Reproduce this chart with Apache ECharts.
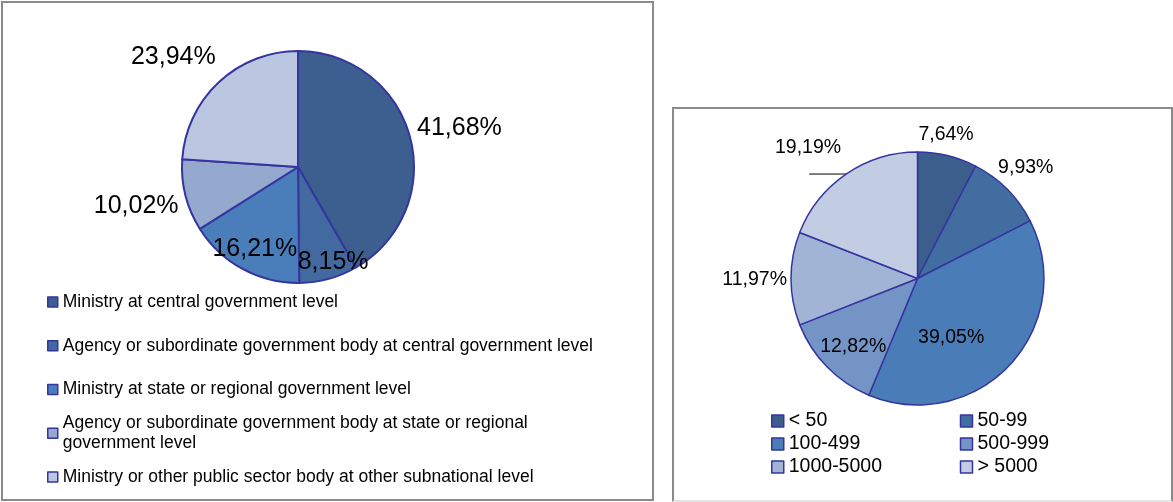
<!DOCTYPE html>
<html>
<head>
<meta charset="utf-8">
<script src="https://cdn.jsdelivr.net/npm/echarts@6/dist/echarts.min.js"></script>
<style>
  html, body { margin: 0; padding: 0; background: #fff; }
  #wrap { position: relative; width: 1173px; height: 502px; overflow: hidden; }
  .box { position: absolute; border: 2px solid #8a8a8a; box-sizing: border-box; }
  #main { position: absolute; left: 0; top: 0; width: 1173px; height: 502px; }
</style>
</head>
<body>
<div id="wrap">
  <div class="box" style="left:1px;top:1px;width:653px;height:500px;"></div>
  <div class="box" style="left:672px;top:107px;width:501px;height:395px;border-bottom-color:#e4e4e4;"></div>
  <div id="main"></div>
</div>
<script>
// 左图：机构类型
var leftNames = [
  "Ministry at central government level",
  "Agency or subordinate government body at central government level",
  "Ministry at state or regional government level",
  "Agency or subordinate government body at state or regional government level",
  "Ministry or other public sector body at other subnational level"
];
var leftValues = [41.68, 8.15, 16.21, 10.02, 23.94];

// 右图：员工规模
var rightNames = ["< 50", "50-99", "100-499", "500-999", "1000-5000", "> 5000"];
var rightValues = [7.64, 9.93, 39.05, 12.82, 11.97, 19.19];

// 颜色
var leftColors = ["#3c5f8f", "#426aa0", "#4a7ebb", "#95a9cf", "#bbc7e0"];
var rightColors = ["#3b5e8c", "#426da0", "#4a7cb8", "#7394c5", "#a2b4d6", "#c2cce2"];
var edgeColor = "#3535a0";

// 标签位置（inside / outside）和微调
var leftLabelPos = ["outside", "inside", "inside", "outside", "outside"];
var leftNudge = [[2, -9], [19, 36], [-14, 29], [-2, 11], [2, -25]];
var rightLabelPos = ["outside", "outside", "inside", "inside", "outside", "outside"];
var rightNudge = [[-34, -21], [-14, -22], [-15, 14], [-17, 22], [1, 1], [37, -26]];

function pct(v) {
  return v.toFixed(2).replace(".", ",") + "%";
}

(function() {
  var myChart = echarts.init(document.getElementById("main"));

  var leftData = leftNames.map(function(n, i) {
    return {
      name: n,
      value: leftValues[i],
      itemStyle: { color: leftColors[i] },
      label: { position: leftLabelPos[i] }
    };
  });

  var rightData = rightNames.map(function(n, i) {
    var item = {
      name: n,
      value: rightValues[i],
      itemStyle: { color: rightColors[i] },
      label: { position: rightLabelPos[i] }
    };
    // 最后一块带引导线
    if (i === rightNames.length - 1) {
      item.labelLine = { show: true, length: 0, length2: 37 };
    }
    return item;
  });

  // 左图图例：每项一个 legend，方便对齐
  var leftLegends = leftNames.map(function(n, i) {
    var wrapped = i === 3;
    var lg = {
      data: [wrapped ? { name: n, textStyle: { padding: [20, 0, 0, 0] } } : n],
      orient: "vertical",
      left: 47,
      top: 302 + i * 43.75 - (wrapped ? 30 : 10),
      padding: 0,
      itemWidth: 10,
      itemHeight: 10,
      selectedMode: false,
      icon: "rect",
      itemStyle: { borderColor: edgeColor, borderWidth: 1.5 },
      textStyle: {
        fontFamily: "Liberation Sans, Arial, sans-serif",
        fontSize: 17.5,
        lineHeight: 20,
        color: "#000"
      }
    };
    // 第四项折成两行
    if (wrapped) {
      lg.formatter = function(name) {
        return name.replace("regional government", "regional\ngovernment");
      };
    }
    return lg;
  });

  var rightLegend = {
    data: rightNames,
    orient: "horizontal",
    left: 771,
    top: 410,
    width: 380,
    padding: 0,
    itemGap: 1,
    itemWidth: 12,
    itemHeight: 12,
    selectedMode: false,
    icon: "rect",
    itemStyle: { borderColor: edgeColor, borderWidth: 1.5 },
    textStyle: {
      fontFamily: "Liberation Sans, Arial, sans-serif",
      fontSize: 19.5,
      lineHeight: 22,
      width: 170,
      color: "#000"
    }
  };

  var option = {
    animation: false,
    legend: leftLegends.concat([rightLegend]),
    series: [
      {
        name: "left",
        type: "pie",
        center: [298, 167],
        radius: 116,
        startAngle: 90,
        clockwise: true,
        avoidLabelOverlap: false,
        itemStyle: { borderColor: edgeColor, borderWidth: 2 },
        label: {
          formatter: function(p) { return pct(p.value); },
          fontFamily: "Liberation Sans, Arial, sans-serif",
          fontSize: 25,
          color: "#000",
          distanceToLabelLine: 5
        },
        labelLine: { show: false, length: 0, length2: 0 },
        labelLayout: function(params) {
          var n = leftNudge[params.dataIndex];
          return { dx: n[0], dy: n[1] };
        },
        emphasis: { disabled: true },
        data: leftData
      },
      {
        name: "right",
        type: "pie",
        center: [917.5, 278.5],
        radius: 126.5,
        startAngle: 90,
        clockwise: true,
        avoidLabelOverlap: false,
        itemStyle: { borderColor: edgeColor, borderWidth: 1.5 },
        label: {
          formatter: function(p) { return pct(p.value); },
          fontFamily: "Liberation Sans, Arial, sans-serif",
          fontSize: 19.5,
          color: "#000",
          distanceToLabelLine: 5
        },
        labelLine: { show: false, length: 0, length2: 0, lineStyle: { color: "#000", width: 1 } },
        labelLayout: function(params) {
          var n = rightNudge[params.dataIndex];
          return { dx: n[0], dy: n[1] };
        },
        emphasis: { disabled: true },
        data: rightData
      }
    ]
  };

  myChart.setOption(option);
  window.addEventListener("resize", function() {
    myChart.resize();
  });
})();
</script>
</body>
</html>
